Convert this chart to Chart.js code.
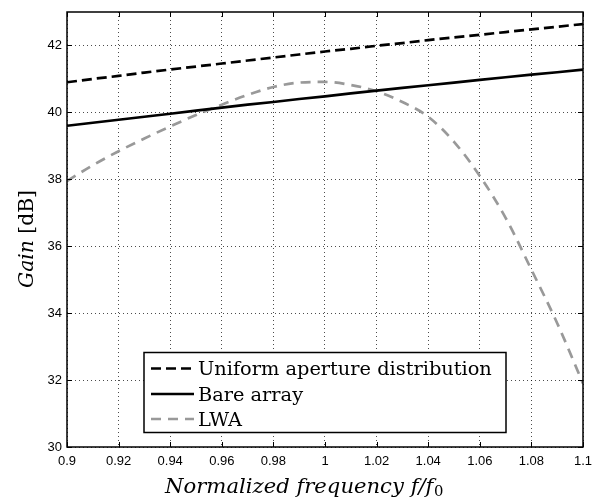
<!DOCTYPE html>
<html>
<head>
<meta charset="utf-8">
<script src="https://cdn.jsdelivr.net/npm/chart.js@4.4.1/dist/chart.umd.min.js"></script>
<style>
html,body{margin:0;padding:0;background:#fff;}
#wrap{width:592px;height:500px;}
</style>
</head>
<body>
<div id="wrap"><canvas id="c" width="592" height="500"></canvas></div>
<script>
// ---- data ----
const freq = [0.90,0.91,0.92,0.93,0.94,0.95,0.96,0.97,0.98,0.99,1.00,1.01,1.02,1.03,1.04,1.05,1.06,1.07,1.08,1.09,1.10];
const uniformGain = [40.90,41.00,41.09,41.19,41.28,41.37,41.46,41.55,41.64,41.73,41.82,41.90,41.99,42.07,42.16,42.24,42.32,42.40,42.48,42.56,42.64];
const bareGain = [39.60,39.69,39.78,39.87,39.96,40.05,40.14,40.23,40.31,40.40,40.48,40.57,40.65,40.73,40.81,40.89,40.97,41.05,41.13,41.20,41.28];
const lwaGain = [37.95,38.42,38.84,39.22,39.58,39.92,40.23,40.52,40.76,40.89,40.91,40.82,40.63,40.31,39.87,39.12,38.10,36.85,35.30,33.70,31.90];
const seriesLabels = ['Uniform aperture distribution','Bare array','LWA'];
const xTicks = [0.90,0.92,0.94,0.96,0.98,1.00,1.02,1.04,1.06,1.08,1.10];
const yTicks = [30,32,34,36,38,40,42];

const pts = arr => arr.map((v,i)=>({x:freq[i], y:v}));
const SERIF = '"DejaVu Serif", "Liberation Serif", serif';

// choose a font size so that the given run of text pieces spans the target width
function fitSize(ctx, pieces, target){
  let w = 0;
  pieces.forEach(p=>{ ctx.font = p.style + ' ' + (20*p.scale) + 'px ' + SERIF; w += ctx.measureText(p.text).width; });
  return 20*target/w;
}

const decor = {
  id:'decor',
  afterDraw(chart){
    const ctx = chart.ctx, a = chart.chartArea;
    const xs = chart.scales.x, ys = chart.scales.y;
    ctx.save();
    // inner ticks
    ctx.strokeStyle = '#000'; ctx.lineWidth = 1; ctx.setLineDash([]);
    ctx.beginPath();
    xTicks.forEach(v=>{
      const px = Math.round(xs.getPixelForValue(v))+0.5;
      ctx.moveTo(px,a.bottom); ctx.lineTo(px,a.bottom-5);
      ctx.moveTo(px,a.top); ctx.lineTo(px,a.top+5);
    });
    yTicks.forEach(v=>{
      const py = Math.round(ys.getPixelForValue(v))+0.5;
      ctx.moveTo(a.left,py); ctx.lineTo(a.left+5,py);
      ctx.moveTo(a.right,py); ctx.lineTo(a.right-5,py);
    });
    ctx.stroke();
    // frame
    ctx.lineWidth = 1.5;
    ctx.strokeRect(a.left, a.top, a.right-a.left, a.bottom-a.top);

    // legend
    const lx = 144, ly = 352.5, lw = 362, lh = 80;
    ctx.fillStyle = '#fff';
    ctx.fillRect(lx, ly, lw, lh);
    ctx.lineWidth = 1.5; ctx.strokeStyle = '#000';
    ctx.strokeRect(lx, ly, lw, lh);
    const rows = [368.5, 394, 419];
    const ls = fitSize(ctx, [{style:'', scale:1, text:seriesLabels[0]}], 294);
    ctx.font = ls + 'px ' + SERIF;
    ctx.textBaseline = 'alphabetic'; ctx.textAlign = 'left';
    chart.data.datasets.forEach((ds,i)=>{
      const y = rows[i];
      ctx.strokeStyle = ds.borderColor; ctx.lineWidth = ds.borderWidth;
      ctx.setLineDash(ds.borderDash || []);
      ctx.beginPath(); ctx.moveTo(151, y); ctx.lineTo(194, y); ctx.stroke();
      ctx.setLineDash([]);
      ctx.fillStyle = '#000';
      ctx.fillText(ds.label, 198, y+6.5);
    });

    // axis titles
    ctx.fillStyle = '#000';
    ctx.textBaseline = 'alphabetic';
    // x title: Normalized frequency f/f0
    const p1 = 'Normalized frequency f/f';
    const xs1 = fitSize(ctx, [{style:'italic', scale:1, text:p1},{style:'', scale:0.7, text:'0'}], 278);
    ctx.font = 'italic ' + xs1 + 'px ' + SERIF; const w1 = ctx.measureText(p1).width;
    let sx = 165;
    const by = 493;
    ctx.textAlign='left'; ctx.fillText(p1, sx, by);
    ctx.font = (xs1*0.7) + 'px ' + SERIF; ctx.fillText('0', sx+w1+0.5, by+3);
    // y title: Gain [dB]
    const ys1 = fitSize(ctx, [{style:'italic', scale:1, text:'Gain '},{style:'', scale:1, text:'[dB]'}], 98);
    ctx.save();
    ctx.translate(33, 288);
    ctx.rotate(-Math.PI/2);
    ctx.font = 'italic ' + ys1 + 'px ' + SERIF; const g1 = ctx.measureText('Gain ').width;
    ctx.fillText('Gain ', 0, 0);
    ctx.font = ys1 + 'px ' + SERIF; ctx.fillText('[dB]', g1, 0);
    ctx.restore();
    ctx.restore();
  }
};

new Chart(document.getElementById('c'), {
  type:'line',
  data:{
    datasets:[
      {label:seriesLabels[0], data:pts(uniformGain), borderColor:'#000', borderWidth:2.7, borderDash:[10,5], pointRadius:0, tension:0, fill:false},
      {label:seriesLabels[1], data:pts(bareGain), borderColor:'#000', borderWidth:2.7, borderDash:[], pointRadius:0, tension:0, fill:false},
      {label:seriesLabels[2], data:pts(lwaGain), borderColor:'#999999', borderWidth:2.7, borderDash:[10,7], pointRadius:0, tension:0.3, cubicInterpolationMode:'monotone', fill:false}
    ]
  },
  options:{
    responsive:false, animation:false,
    layout:{padding:{left:0, top:12, right:9, bottom:0}},
    plugins:{legend:{display:false}, tooltip:{enabled:false}},
    scales:{
      x:{
        type:'linear', min:0.9, max:1.1,
        afterBuildTicks(s){ s.ticks = xTicks.map(v=>({value:v})); },
        afterFit(s){ s.height = 53; s.paddingLeft = 0; s.paddingRight = 0; },
        grid:{color:'rgba(0,0,0,0.7)', lineWidth:1, drawTicks:false},
        border:{display:false, dash:[1,3]},
        ticks:{padding:7, color:'#000', maxRotation:0, autoSkip:false,
          font:{family:'"Liberation Sans", Arial, sans-serif', size:13},
          callback:v=>String(Number(v.toFixed(2)))}
      },
      y:{
        type:'linear', min:30, max:43,
        afterBuildTicks(s){ s.ticks = yTicks.map(v=>({value:v})); },
        afterFit(s){ s.width = 67; s.paddingTop = 0; s.paddingBottom = 0; },
        grid:{color:'rgba(0,0,0,0.7)', lineWidth:1, drawTicks:false},
        border:{display:false, dash:[1,3]},
        ticks:{padding:5, color:'#000', autoSkip:false,
          font:{family:'"Liberation Sans", Arial, sans-serif', size:13},
          callback:v=>String(v)}
      }
    }
  },
  plugins:[decor]
});
</script>
</body>
</html>
